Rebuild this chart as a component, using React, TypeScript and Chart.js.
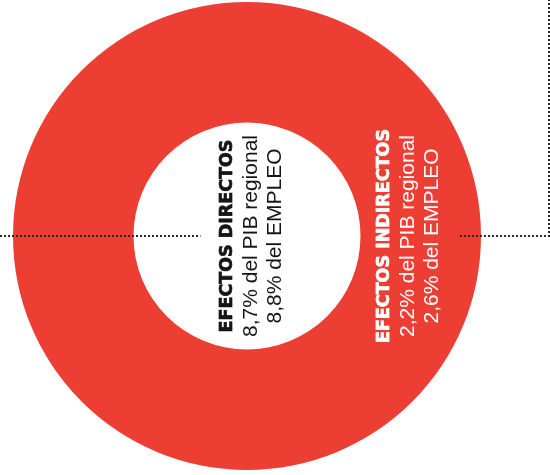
import React, { useEffect, useRef } from "react";
import { Chart, registerables } from "chart.js";

Chart.register(...registerables);

// ---- data ----
const ringLabels = ["EFECTOS INDIRECTOS"];
const ringValues = [100];
const effectNames = ["EFECTOS DIRECTOS", "EFECTOS INDIRECTOS"];
const pibShares = ["8,7%", "2,2%"];
const empleoShares = ["8,8%", "2,6%"];

const RED = "#ED3E34";

const labelPlugin = {
  id: "ringLabels",
  afterDraw(chart: any) {
    const meta = chart.getDatasetMeta(0);
    const arc = meta.data[0];
    if (!arc) return;
    const { x: cx, y: cy, innerRadius: ir, outerRadius: or } = arc.getProps(
      ["x", "y", "innerRadius", "outerRadius"],
      true
    );
    const ctx = chart.ctx as CanvasRenderingContext2D;
    const W = chart.width;
    ctx.save();
    // dotted guide lines
    ctx.strokeStyle = "#262626";
    ctx.lineWidth = 2;
    ctx.setLineDash([2, 2]);
    ctx.beginPath();
    ctx.moveTo(0, cy);
    ctx.lineTo(cx - ir * 0.41, cy);
    ctx.stroke();
    ctx.beginPath();
    ctx.moveTo(cx + or * 0.91, cy);
    ctx.lineTo(W - 1, cy);
    ctx.lineTo(W - 1, 0);
    ctx.stroke();
    ctx.setLineDash([]);

    const drawBlock = (centerX: number, idx: number, color: string) => {
      const lines = [
        effectNames[idx],
        `${pibShares[idx]} del PIB regional`,
        `${empleoShares[idx]} del EMPLEO`,
      ];
      ctx.save();
      ctx.translate(centerX, cy);
      ctx.rotate(-Math.PI / 2);
      ctx.fillStyle = color;
      ctx.strokeStyle = color;
      ctx.textAlign = "center";
      ctx.textBaseline = "middle";
      lines.forEach((t, i) => {
        ctx.font =
          i === 0 ? 'bold 17.5px "DejaVu Sans"' : '21px "Liberation Sans"';
        ctx.fillText(t, 0, (i - 1) * 24);
        if (i === 0) {
          ctx.lineWidth = 0.7;
          ctx.strokeText(t, 0, (i - 1) * 24);
        }
      });
      ctx.restore();
    };
    drawBlock(cx + 4.5, 0, "#151515");
    drawBlock(cx + ir + (or - ir) * 0.4, 1, "#ffffff");
    ctx.restore();
  },
};

export default function App() {
  const ref = useRef<HTMLCanvasElement | null>(null);
  useEffect(() => {
    if (!ref.current) return;
    const chart = new Chart(ref.current, {
      type: "doughnut",
      data: {
        labels: ringLabels,
        datasets: [
          {
            data: ringValues,
            backgroundColor: [RED],
            borderWidth: 0,
            hoverOffset: 0,
            offset: 0,
          },
        ],
      },
      options: {
        responsive: false,
        animation: false,
        events: [],
        cutout: "48.5%",
        layout: { padding: { left: 13, top: 2, right: 69, bottom: 5 } },
        plugins: {
          legend: { display: false },
          tooltip: { enabled: false },
        },
      },
      plugins: [labelPlugin],
    });
    return () => chart.destroy();
  }, []);
  return (
    <div
      style={{
        position: "absolute",
        left: 0,
        top: 0,
        width: 550,
        height: 475,
        background: "#fff",
      }}
    >
      <canvas
        ref={ref}
        width={550}
        height={475}
        style={{ display: "block", width: 550, height: 475 }}
      />
    </div>
  );
}
